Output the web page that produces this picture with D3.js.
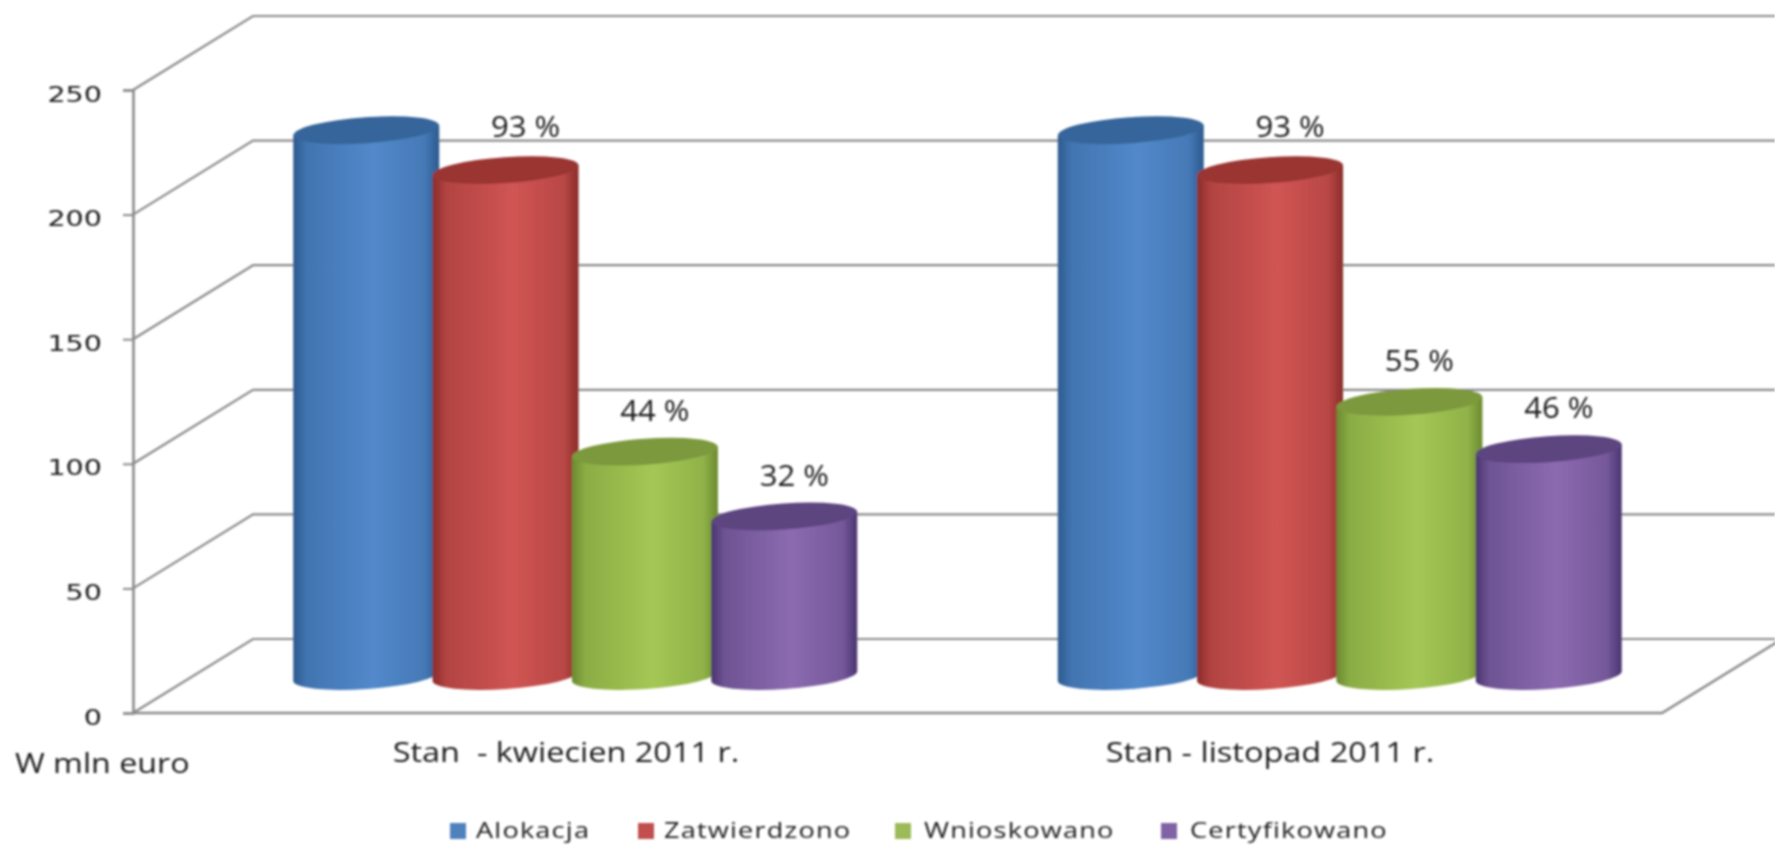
<!DOCTYPE html>
<html>
<head>
<meta charset="utf-8">
<script src="https://cdn.jsdelivr.net/npm/d3@7"></script>
<style>
    html, body { margin: 0; padding: 0; background: #fff; }
    text { font-family: "Open Sans", sans-serif; fill: #1a1a1a; }
</style>
</head>
<body>
<script>
var categories = ["Stan  - kwiecien 2011 r.", "Stan - listopad 2011 r."];
var seriesNames = ["Alokacja", "Zatwierdzono", "Wnioskowano", "Certyfikowano"];
var alokacja = [219, 219];
var zatwierdzono = [203, 203];
var wnioskowano = [90, 110];
var certyfikowano = [64, 91];
var percentLabels = [
    [null, null],
    ["93 %", "93 %"],
    ["44 %", "55 %"],
    ["32 %", "46 %"]
];
var yTicks = [0, 50, 100, 150, 200, 250];
var unitLabel = "W mln euro";

var sideColors = [["#2c5a8e", "#5289cb"], ["#8a2c2a", "#d05553"], ["#6b8a30", "#a4c755"], ["#4a3570", "#8c6bb0"]];
var topColors = ["#36659a", "#9a3432", "#7b993c", "#5d4580"];
var legendColors = ["#4f81bd", "#c0504d", "#9bbb59", "#8064a2"];

var width = 1775, height = 845;
var depthX = 120, depthY = -74;

var svg = d3.select("body").append("svg")
    .attr("width", width)
    .attr("height", height)
    .style("display", "block");

var defs = svg.append("defs");
defs.append("filter").attr("id", "soft")
    .append("feGaussianBlur").attr("stdDeviation", 0.8);

sideColors.forEach(function (c, i) {
    var mix = d3.interpolateRgb(c[0], c[1]);
    var g = defs.append("linearGradient").attr("id", "side" + i);
    g.append("stop").attr("offset", "0%").attr("stop-color", c[0]);
    g.append("stop").attr("offset", "9%").attr("stop-color", mix(0.55));
    g.append("stop").attr("offset", "55%").attr("stop-color", c[1]);
    g.append("stop").attr("offset", "90%").attr("stop-color", mix(0.65));
    g.append("stop").attr("offset", "100%").attr("stop-color", c[0]);
});

var y = d3.scaleLinear().domain([0, 250]).range([713, 90]);
var x0 = d3.scaleBand().domain(categories).range([133, 1662]);
var x1 = d3.scalePoint().domain(seriesNames).range([-209, 209]);

// widen a text to the stretched look of the picture
function stretch(sel, factor) {
    sel.each(function () {
        d3.select(this)
            .attr("textLength", this.getComputedTextLength() * factor)
            .attr("lengthAdjust", "spacingAndGlyphs");
    });
}

var chart = svg.append("g").attr("filter", "url(#soft)");

// walls and gridlines
var grid = chart.append("g");
yTicks.forEach(function (t) {
    var p = d3.path();
    p.moveTo(x0.range()[0], y(t));
    p.lineTo(x0.range()[0] + depthX, y(t) + depthY);
    p.lineTo(width, y(t) + depthY);
    grid.append("path")
        .attr("d", p.toString())
        .attr("fill", "none")
        .attr("stroke", "#8a8a8a")
        .attr("stroke-width", 2.2);
});

var floor = d3.path();
floor.moveTo(x0.range()[0], y(0));
floor.lineTo(x0.range()[1], y(0));
floor.lineTo(x0.range()[1] + depthX, y(0) + depthY);
grid.append("path")
    .attr("d", floor.toString())
    .attr("fill", "none")
    .attr("stroke", "#8a8a8a")
    .attr("stroke-width", 2.6);

// y axis
var yAxis = chart.append("g")
    .attr("transform", "translate(" + x0.range()[0] + ",0)")
    .call(d3.axisLeft(y).tickValues(yTicks).tickSize(10).tickPadding(21));
yAxis.select(".domain").attr("stroke", "#8a8a8a").attr("stroke-width", 2.6);
yAxis.selectAll(".tick line").attr("stroke", "#8a8a8a").attr("stroke-width", 2);
yAxis.selectAll("text")
    .attr("dy", "0.5em")
    .style("font-family", '"DejaVu Sans", sans-serif')
    .style("font-size", "22px")
    .style("fill", "#1a1a1a")
    .call(stretch, 1.3);

// cylinders, drawn series by series so the later ones overlap
var allValues = [alokacja, zatwierdzono, wnioskowano, certyfikowano];
var rx = 73, ry = 13, tilt = 5;
var angle = -Math.atan(tilt / rx) * 180 / Math.PI;

function cylinderSide(cx, top, base) {
    return "M" + (cx - rx) + "," + (top + tilt)
        + "L" + (cx - rx) + "," + (base + tilt)
        + "A" + rx + "," + ry + " " + angle + " 0 0 " + (cx + rx) + "," + (base - tilt)
        + "L" + (cx + rx) + "," + (top - tilt) + "Z";
}

categories.forEach(function (cat, c) {
    seriesNames.forEach(function (name, s) {
        var cx = x0(cat) + x0.bandwidth() / 2 + depthX / 2 + x1(name);
        var base = y(0) + depthY / 2;
        var top = y(allValues[s][c]) + depthY / 2;
        chart.append("path")
            .attr("d", cylinderSide(cx, top, base))
            .attr("fill", "url(#side" + s + ")");
        chart.append("ellipse")
            .attr("cx", cx).attr("cy", top)
            .attr("rx", rx).attr("ry", ry)
            .attr("transform", "rotate(" + angle + " " + cx + " " + top + ")")
            .attr("fill", topColors[s]);
        if (percentLabels[s][c]) {
            chart.append("text")
                .attr("x", cx + (s == 1 ? 20 : 10))
                .attr("y", top - (s == 1 ? 33 : 31))
                .attr("text-anchor", "middle")
                .style("font-size", "29px")
                .text(percentLabels[s][c])
                .call(stretch, 1.07);
        }
    });
});

// category labels
var catLabelX = d3.scalePoint().domain(categories).range([566, 1270]);
chart.selectAll(".cat")
    .data(categories)
    .enter().append("text")
    .attr("class", "cat")
    .attr("x", function (d) { return catLabelX(d); })
    .attr("y", 762)
    .attr("text-anchor", "middle")
    .style("font-size", "28px")
    .style("white-space", "pre")
    .attr("xml:space", "preserve")
    .text(function (d) { return d; })
    .call(stretch, 1.16);

chart.append("text")
    .attr("x", 15)
    .attr("y", 773)
    .style("font-size", "28px")
    .text(unitLabel)
    .call(stretch, 1.15);

// legend
var legendX = d3.scaleOrdinal().domain(seriesNames).range([450, 638, 895, 1161]);
var legend = chart.selectAll(".legend")
    .data(seriesNames)
    .enter().append("g")
    .attr("class", "legend")
    .attr("transform", function (d) { return "translate(" + legendX(d) + ",823)"; });
legend.append("rect")
    .attr("width", 16).attr("height", 16)
    .attr("fill", function (d, i) { return legendColors[i]; });
legend.append("text")
    .attr("x", function (d, i) { return i < 2 ? 26 : 29; })
    .attr("y", 15)
    .style("font-size", "22px")
    .style("letter-spacing", "1px")
    .text(function (d) { return d; })
    .call(stretch, 1.23);
</script>
</body>
</html>
